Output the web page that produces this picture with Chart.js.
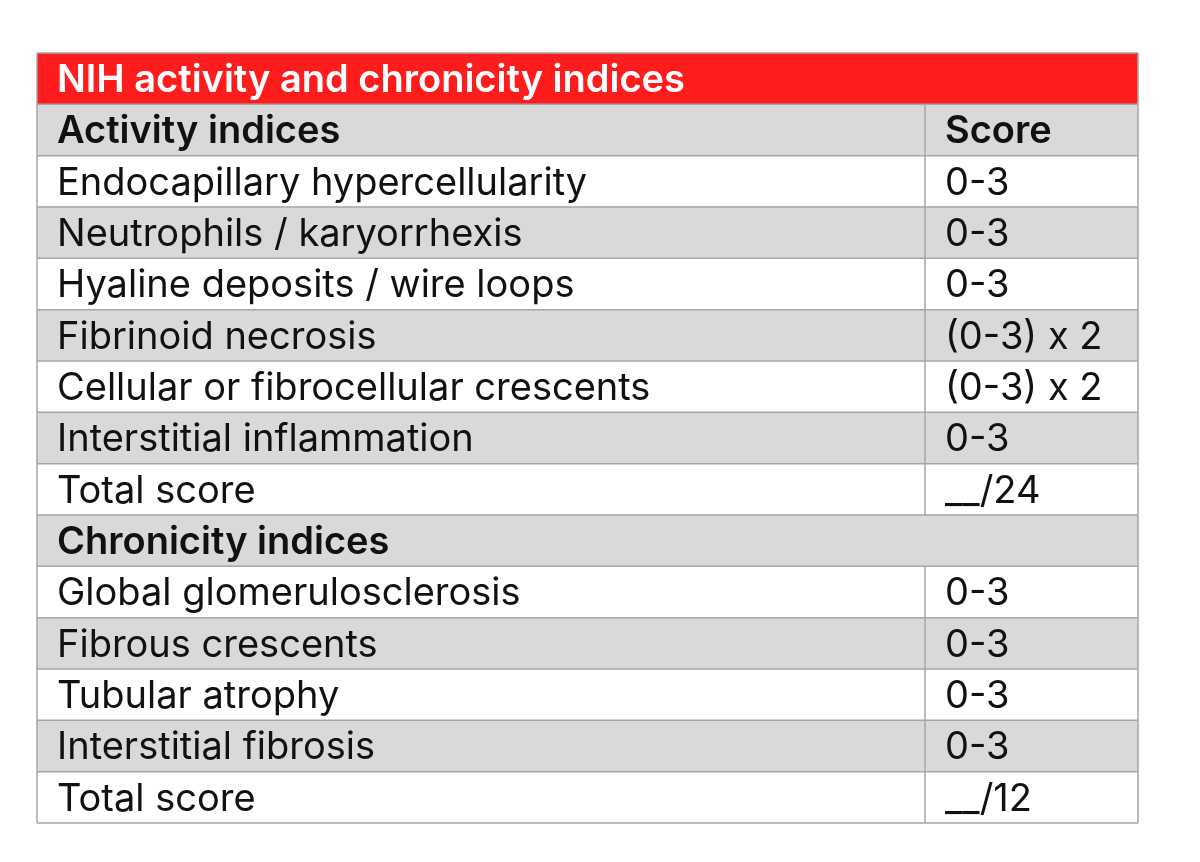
<!DOCTYPE html>
<html><head><meta charset="utf-8">
<script src="https://cdn.jsdelivr.net/npm/chart.js@4"></script>
<style>html,body{margin:0;padding:0;background:#fff}#wrap{width:1200px;height:862px}</style>
</head><body><div id="wrap"><canvas id="c"></canvas></div>
<script>
const title = "NIH activity and chronicity indices";
const rowLabels = ["Activity indices","Endocapillary hypercellularity","Neutrophils / karyorrhexis","Hyaline deposits / wire loops","Fibrinoid necrosis","Cellular or fibrocellular crescents","Interstitial inflammation","Total score","Chronicity indices","Global glomerulosclerosis","Fibrous crescents","Tubular atrophy","Interstitial fibrosis","Total score"];
const scores = ["Score","0-3","0-3","0-3","(0-3) x 2","(0-3) x 2","0-3","__/24","","0-3","0-3","0-3","0-3","__/12"];
const headerRows = [0,8];
const categories = [title, ...rowLabels];
const fills = categories.map((c,i)=> i===0 ? '#ff1c1c' : (i%2===1 ? '#d9d9d9' : '#ffffff'));
const DIV = (925-37)/(1138-37);

const tablePlugin = {
  id:'table',
  afterDatasetsDraw(chart){
    const {ctx, chartArea:a, scales:{x,y}} = chart;
    const n = categories.length;
    const h = (a.bottom-a.top)/n;
    const xd = x.getPixelForValue(DIV);
    ctx.save();
    ctx.strokeStyle='#a6a6a6'; ctx.lineWidth=1.5;
    for(let i=0;i<=n;i++){const yy=a.top+i*h;ctx.beginPath();ctx.moveTo(a.left,yy);ctx.lineTo(a.right,yy);ctx.stroke();}
    ctx.beginPath();ctx.moveTo(a.left,a.top);ctx.lineTo(a.left,a.bottom);ctx.moveTo(a.right,a.top);ctx.lineTo(a.right,a.bottom);ctx.stroke();
    for(let i=1;i<n;i++){ if(i-1===8) continue; const yy=a.top+i*h; ctx.beginPath();ctx.moveTo(xd,yy);ctx.lineTo(xd,yy+h);ctx.stroke();}
    ctx.textBaseline='middle';
    categories.forEach((c,i)=>{
      const yc = y.getPixelForValue(i)+2;
      const hdr = i===0 || headerRows.includes(i-1);
      ctx.font = (hdr?'600 ':'400 ')+'38px Inter, "Open Sans", sans-serif';
      ctx.fillStyle = i===0 ? '#ffffff' : '#111111';
      ctx.fillText(c, a.left+20, yc);
      if(i>0){
        const s = scores[i-1];
        ctx.font = (i===1?'600 ':'400 ')+'38px Inter, "Open Sans", sans-serif';
        ctx.fillText(s, xd+20, yc);
      }
    });
    ctx.restore();
  }
};

new Chart(document.getElementById('c'),{
  type:'bar',
  data:{labels:categories,datasets:[{data:categories.map(()=>1),backgroundColor:fills,barPercentage:1,categoryPercentage:1,borderWidth:0}]},
  options:{
    indexAxis:'y',responsive:true,maintainAspectRatio:false,animation:false,
    layout:{padding:{left:37,right:62,top:53,bottom:39}},
    plugins:{legend:{display:false},tooltip:{enabled:false}},
    scales:{x:{display:false,min:0,max:1},y:{display:false}}
  },
  plugins:[tablePlugin]
});
</script></body></html>
